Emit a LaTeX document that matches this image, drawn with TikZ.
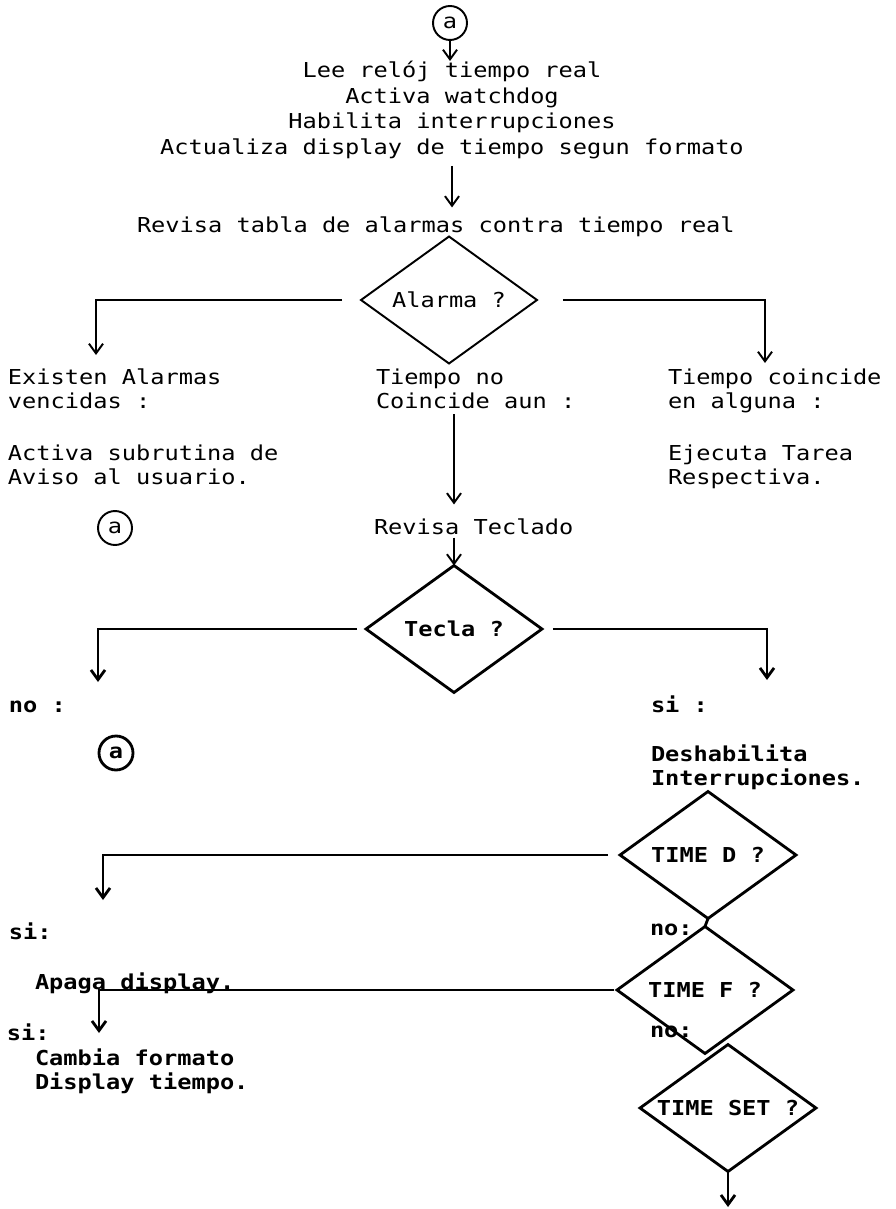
\documentclass[tikz,border=0pt]{standalone}
\usepackage{fontspec}
\newfontfamily\mono[FakeStretch=1.15]{DejaVu Sans Mono}
\usetikzlibrary{shapes.geometric,arrows.meta}

\begin{document}
\begin{tikzpicture}[x=0.02cm, y=-0.02cm,
  every node/.style={inner sep=0pt, outer sep=0pt, font=\mono\fontsize{11.7}{13.4}\selectfont},
  linea/.style={anchor=west, text height=8.6pt, text depth=0pt},
  bloque/.style={anchor=north west, align=left},
  neg/.style={font=\mono\bfseries\fontsize{11.7}{13.4}\selectfont},
  dia/.style={diamond, draw, line width=1.1pt, minimum width=3.52cm, minimum height=2.54cm},
  con/.style={circle, draw, line width=1.1pt, minimum size=0.68cm},
  flecha/.style={-{Straight Barb[length=5.5pt,width=8pt]}, line width=1.1pt},
  grueso/.style={line width=1.6pt}]
\useasboundingbox (0,0) rectangle (895,1209);

% inicio
\node[con] (ca) at (450,23) {a};
\node[anchor=north, align=center, font=\mono\fontsize{11.7}{14.6}\selectfont] (lee) at (452,61)
  {Lee relój tiempo real\\Activa watchdog\\Habilita interrupciones\\Actualiza display de tiempo segun formato};
\node[linea] (revisa) at (137,225) {Revisa tabla de alarmas contra tiempo real};
\node[dia] (alarma) at (449,300) {\makebox[0pt]{Alarma ?}};

% ramas de la alarma
\node[bloque] (existen) at (8,369) {Existen Alarmas\\vencidas :};
\node[bloque] (aviso) at (8,445) {Activa subrutina de\\Aviso al usuario.};
\node[con] (cb) at (115,528) {a};
\node[bloque] (tiempo) at (376,369) {Tiempo no\\Coincide aun :};
\node[bloque] (coincide) at (668,369) {Tiempo coincide\\en alguna :};
\node[bloque] (ejecuta) at (668,445) {Ejecuta Tarea\\Respectiva.};

% teclado
\node[linea] (revtec) at (374,527) {Revisa Teclado};
\node[dia, grueso] (tecla) at (454,629) {\makebox[0pt]{\bfseries Tecla ?}};
\node[linea, neg] (no1) at (9,705) {no :};
\node[linea, neg] (si1) at (651,705) {si :};
\node[con, grueso] (cc) at (116,753) {\bfseries a};
\node[bloque, neg] (desh) at (651,745) {Deshabilita\\Interrupciones.};

% teclas de tiempo
\node[dia, grueso] (tdia) at (708,855) {\makebox[0pt]{\bfseries TIME D ?}};
\node[linea, neg] (si2) at (9,932) {si:};
\node[linea, neg] (no2) at (650,928) {no:};
\node[dia, grueso] (tfdia) at (705,990) {\makebox[0pt]{\bfseries TIME F ?}};
\node[linea, neg] (apaga) at (35,982) {Apaga display.};
\node[linea, neg] (si3) at (7,1033) {si:};
\node[bloque, neg] (cambia) at (35,1049) {Cambia formato\\Display tiempo.};
\node[linea, neg] (no3) at (650,1030) {no:};
\node[dia, grueso] (tsdia) at (728,1108) {\makebox[0pt]{\bfseries TIME SET ?}};

\coordinate (c1) at (96,355);
\coordinate (c2) at (765,363);
\coordinate (c3) at (98,682);
\coordinate (c4) at (767,680);
\coordinate (c5) at (103,900);
\coordinate (c6) at (99,1033);
\coordinate (c7) at (728,1207);

\draw[flecha] (ca) -- (ca |- lee.north);
\draw[flecha, shorten <=0.14cm, shorten >=0.2cm] (lee.south) -- (lee.south |- revisa.north);
\draw[flecha] ([xshift=-0.38cm]alarma.west) -| (c1);
\draw[flecha] ([xshift=0.52cm]alarma.east) -| (c2);
\draw[flecha, shorten <=0.12cm, shorten >=0.3cm] (tecla.north |- tiempo.south) -- (tecla.north |- revtec.north);
\draw[flecha, shorten <=0.06cm] (tecla.north |- revtec.south) -- (tecla.north);
\draw[flecha, grueso] ([xshift=-0.18cm]tecla.west) -| (c3);
\draw[flecha, grueso] ([xshift=0.22cm]tecla.east) -| (c4);
\draw[flecha, grueso] ([xshift=-0.24cm]tdia.west) -| (c5);
\draw[grueso] (tdia.south) -- (tfdia.north);
\draw[flecha, grueso] ([xshift=-0.06cm]tfdia.west) -| (c6);
\draw[flecha, grueso] (tsdia.south) -- (c7);
\end{tikzpicture}
\end{document}
